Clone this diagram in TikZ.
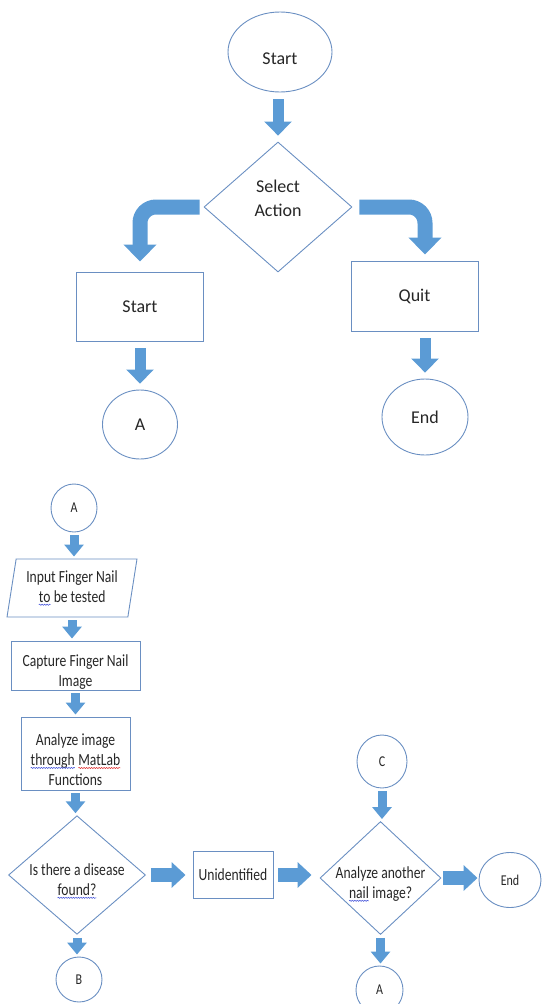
\documentclass[tikz,border=0pt]{standalone}
\usepackage{fontspec}
\setmainfont{Carlito}
\newfontfamily\narrowfont[FakeStretch=0.8]{Carlito}
\usetikzlibrary{shapes.geometric,arrows.meta,decorations.pathmorphing}

\definecolor{lineblue}{HTML}{6A8FC2}
\definecolor{arrowblue}{HTML}{5B9BD5}
\definecolor{squigblue}{HTML}{3B4BD8}
\definecolor{squigred}{HTML}{E03030}
% spell-check squiggle under a word
\newcommand{\squig}[2]{\tikz[baseline=(w.base)]{\node[rectangle,draw=none,inner sep=0pt,outer sep=0pt,minimum width=0pt,minimum height=0pt,text height=,text depth=] (w) {#2};
	\draw[#1,line width=0.5pt,decorate,decoration={snake,amplitude=0.6pt,segment length=2.5pt}] ([yshift=-2.5pt]w.base west) -- ([yshift=-2.5pt]w.base east);}}
% taller first line, pushes the text down a little
\newcommand{\lowstrut}{\rule{0pt}{24pt}}

\tikzstyle{terminal}=[ellipse,draw=lineblue,line width=0.9pt,inner sep=0pt,text=black!85,font=\fontsize{18}{24}\selectfont]
\tikzstyle{process}=[rectangle,draw=lineblue,line width=0.9pt,inner sep=0pt,align=center,text=black!85,font=\fontsize{18}{24}\selectfont]
\tikzstyle{decision}=[diamond,draw=lineblue,line width=0.9pt,inner sep=-6pt,align=center,text=black!85,font=\fontsize{18}{24}\selectfont]
\tikzstyle{small terminal}=[terminal,font=\narrowfont\fontsize{15}{18}\selectfont]
\tikzstyle{small process}=[process,font=\narrowfont\fontsize{17}{20}\selectfont]
\tikzstyle{small decision}=[decision,font=\narrowfont\fontsize{17}{20}\selectfont]
\tikzstyle{io}=[trapezium,trapezium left angle=78,trapezium right angle=102,trapezium stretches=true,draw=lineblue,line width=0.9pt,inner sep=0pt,align=center,text=black!85,font=\narrowfont\fontsize{17}{20}\selectfont]
\tikzstyle{block arrow}=[draw=arrowblue,line width=11pt,-{Triangle[width=27pt,length=14pt]},shorten <=7pt,shorten >=6pt]
\tikzstyle{bent arrow}=[draw=arrowblue,line width=15pt,rounded corners=16pt,-{Triangle[width=32pt,length=17pt]}]
\tikzstyle{small arrow}=[draw=arrowblue,line width=9pt,-{Triangle[width=19pt,length=12pt]},shorten <=3pt,shorten >=2pt]
\tikzstyle{side arrow}=[draw=arrowblue,line width=14pt,-{Triangle[width=25pt,length=14pt]}]

\begin{document}
\begin{tikzpicture}[x=1pt,y=-1pt]
			\useasboundingbox (0,0) rectangle (541,1004);
			% Main menu
			\node[terminal,minimum width=104pt,minimum height=80pt,text height=25pt] (start) at (280,52) {Start};
			\node[decision,minimum width=148pt,minimum height=130pt,text depth=18pt] (sel) at (278,207) {Select\\Action};
			\node[process,minimum width=127pt,minimum height=69pt] (lstart) at (140,306.5) {Start};
			\node[terminal,minimum width=75pt,minimum height=69pt] (la) at (140,424.5) {A};
			\node[process,minimum width=127pt,minimum height=70pt] (quit) at (414.5,296) {Quit};
			\node[terminal,minimum width=86pt,minimum height=76pt] (qend) at (425,417) {End};
			% Testing a nail
			\node[small terminal,minimum width=46pt,minimum height=48pt] (a2) at (74,508) {A};
			\node[io,minimum width=130pt,minimum height=58pt] (input) at (72,588) {Input Finger Nail\\\squig{squigblue}{to} be tested};
			\node[small process,minimum width=129pt,minimum height=49pt] (capture) at (75.5,665.5) {\lowstrut Capture Finger Nail\\Image};
			\node[small process,minimum width=109pt,minimum height=73pt] (analyze) at (75.5,753.5) {\lowstrut Analyze image\\\squig{squigblue}{through} \squig{squigred}{MatLab}\\Functions};
			\node[small decision,minimum width=137pt,minimum height=113pt] (disease) at (77,875) {\lowstrut Is there a disease\\\squig{squigblue}{found?}};
			\node[small terminal,minimum width=46pt,minimum height=45pt] (b) at (79,979.5) {B};
			\node[small process,minimum width=80pt,minimum height=47pt] (unid) at (233,875) {Unidentified};
			\node[small terminal,minimum width=50pt,minimum height=53pt] (c) at (382,761.5) {C};
			\node[small decision,minimum width=121pt,minimum height=109pt] (another) at (380.5,878) {\lowstrut Analyze another\\\squig{squigblue}{nail} image?};
			\node[small terminal,minimum width=62pt,minimum height=55pt] (end2) at (510,880) {End};
			\node[small terminal,minimum width=47pt,minimum height=48pt] (a3) at (379.5,990) {A};
			% Connect the menu
			\foreach \source/\dest in {start/sel, lstart/la, quit/qend}
				\path[block arrow] (\source.south -| \dest) -- (\dest.north);
			\path[bent arrow,shorten <=4pt,shorten >=10pt] (sel.west) -| (lstart.north);
			\path[bent arrow,shorten <=7pt,shorten >=6pt] (sel.east) -| (qend |- quit.north);
			% Connect the test steps
			\foreach \source/\dest in {a2/input, input/capture, capture/analyze, analyze/disease, disease/b, c/another, another/a3}
				\path[small arrow] (\source.south) -- (\source.south |- \dest.north);
			\foreach \source/\dest/\ga/\gb in {disease/unid/5/7, unid/another/5/8, another/end2/2/1}
				\path[side arrow,shorten <=\ga pt,shorten >=\gb pt] (\source.east) -- (\source.east -| \dest.west);
\end{tikzpicture}
\end{document}
